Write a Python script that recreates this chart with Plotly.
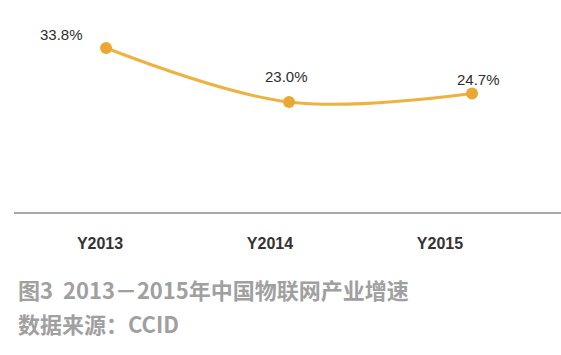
import plotly.graph_objects as go

categories = ["Y2013", "Y2014", "Y2015"]
growth = [33.8, 23.0, 24.7]
caption_title = "图3  2013－2015年中国物联网产业增速"
caption_source = "数据来源：CCID"

W, H = 561, 355
ML, MR, MT, MB = 14, 0, 0, 143
plot_h = H - MT - MB

fig = go.Figure()
fig.add_trace(go.Scatter(
    x=categories, y=growth, mode="lines+markers",
    line=dict(color="#EDB23F", width=3, shape="spline", smoothing=1.0),
    marker=dict(color="#EAA833", size=12),
    hoverinfo="skip", showlegend=False,
))
# invisible trace for the tick-label axis
fig.add_trace(go.Scatter(
    x=categories, y=[None] * len(categories), xaxis="x2",
    mode="markers", showlegend=False, hoverinfo="skip",
))

offsets = [(-45, 14), (-3, 26), (6, 14)]
for c, v, (dx, dy) in zip(categories, growth, offsets):
    fig.add_annotation(
        x=c, y=v, text=f"{v:.1f}%", showarrow=False,
        xshift=dx, yshift=dy,
        font=dict(family="Liberation Sans, Arial", size=15, color="#2e2e2e"),
    )

def py(px):
    return (plot_h - (px - MT)) / plot_h

cap_font = dict(family="Noto Sans CJK SC", size=22, color="#a0a0a0")
fig.add_annotation(xref="paper", yref="paper", x=0, xshift=2, y=py(289),
                   xanchor="left", yanchor="middle", showarrow=False,
                   text=f"<b>{caption_title}</b>", font=cap_font)
fig.add_annotation(xref="paper", yref="paper", x=0, xshift=2, y=py(323),
                   xanchor="left", yanchor="middle", showarrow=False,
                   text=f"<b>{caption_source}</b>", font=cap_font)

fig.update_layout(
    width=W, height=H,
    margin=dict(l=ML, r=MR, t=MT, b=MB),
    paper_bgcolor="white", plot_bgcolor="white",
    xaxis=dict(type="category", range=[-0.503, 2.486], showticklabels=False,
               showgrid=False, zeroline=False, showline=False, ticks=""),
    xaxis2=dict(type="category", overlaying="x", anchor="y", side="bottom",
                range=[-0.506, 2.712], showgrid=False, zeroline=False,
                showline=True, linecolor="#A6A6AE", linewidth=2,
                ticks="outside", ticklen=16, tickcolor="rgba(0,0,0,0)",
                tickfont=dict(family="Liberation Sans, Arial", size=16,
                              color="#333333", weight="bold")),
    yaxis=dict(range=[1.0, 43.4], visible=False, showgrid=False, zeroline=False),
)

fig.write_html(
    "out.html",
    config={"displayModeBar": False},
    post_script="document.body.style.margin='0';document.body.style.overflow='hidden';",
)
